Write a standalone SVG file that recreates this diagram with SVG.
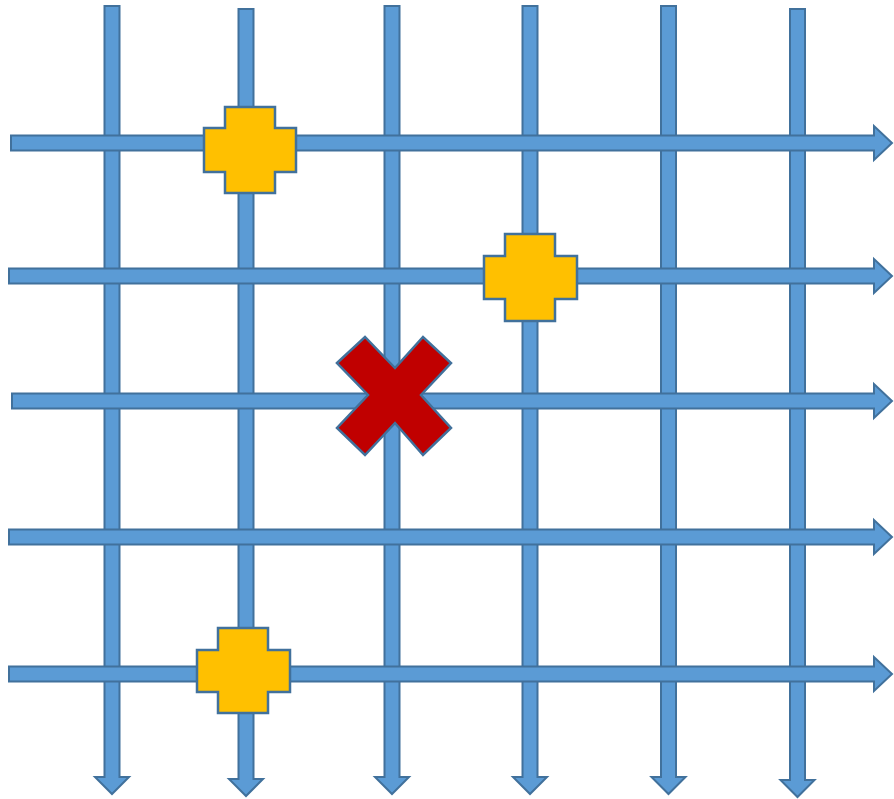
<svg xmlns="http://www.w3.org/2000/svg" width="894" height="799" viewBox="0 0 894 799">
<style>
.arr{fill:#5B9BD5;stroke:#41719C;stroke-width:2;stroke-linejoin:miter}
.plus{fill:#FFC000;stroke:#41719C;stroke-width:2.5}
.cross{fill:#C00000;stroke:#41719C;stroke-width:2.5}
</style>
<rect width="894" height="799" fill="#FFFFFF"/>
<g id="connectors">
<g id="verticals">
<polygon class="arr" points="104.5,6 119.5,6 119.5,777 129,777 112,794 95,777 104.5,777"/>
<polygon class="arr" points="238.5,9 253.5,9 253.5,779 263,779 246,796 229,779 238.5,779"/>
<polygon class="arr" points="384.5,6 399.5,6 399.5,777 409,777 392,794 375,777 384.5,777"/>
<polygon class="arr" points="522.5,6 537.5,6 537.5,777 547,777 530,794 513,777 522.5,777"/>
<polygon class="arr" points="661,6 676,6 676,777 685.5,777 668.5,794 651.5,777 661,777"/>
<polygon class="arr" points="790,9 805,9 805,780 814.5,780 797.5,797 780.5,780 790,780"/>
</g>
<g id="horizontals">
<polygon class="arr" points="11,135.5 874,135.5 874,126 892,143 874,160 874,150.5 11,150.5"/>
<polygon class="arr" points="9,268.5 874,268.5 874,259 892,276 874,293 874,283.5 9,283.5"/>
<polygon class="arr" points="12,393.5 874,393.5 874,384 892,401 874,418 874,408.5 12,408.5"/>
<polygon class="arr" points="9,529.5 874,529.5 874,520 892,537 874,554 874,544.5 9,544.5"/>
<polygon class="arr" points="9,666.5 874,666.5 874,657 892,674 874,691 874,681.5 9,681.5"/>
</g>
</g>
<g id="plus1">
<polygon class="plus" points="225,107 275,107 275,128 296,128 296,172 275,172 275,193 225,193 225,172 204,172 204,128 225,128"/>
</g>
<g id="plus2">
<polygon class="plus" points="505,234 555,234 555,256 577,256 577,299 555,299 555,321 505,321 505,299 484,299 484,256 505,256"/>
</g>
<g id="plus3">
<polygon class="plus" points="218,628 268,628 268,650 290,650 290,692 268,692 268,713 218,713 218,692 197,692 197,650 218,650"/>
</g>
<g id="cross">
<polygon class="cross" points="337,363 365,337 395,368 423,337 451,363 421,395 451,428 423,455 395,423 365,455 337,428 368,395"/>
</g>
</svg>
